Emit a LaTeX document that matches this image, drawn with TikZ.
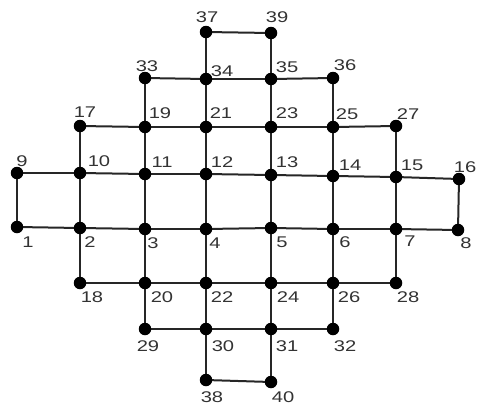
\documentclass[tikz,border=0pt]{standalone}
\usepackage{fontspec}
\newfontfamily\labfont{Liberation Sans}
\tikzset{
  vtx/.style={circle,fill=black,inner sep=0pt,minimum size=12.5pt},
  lab/.style={font=\labfont\fontsize{15.5}{15.5}\selectfont,text=black!80,inner sep=0pt,xscale=1.3,transform shape},
  edge/.style={line width=2pt,draw=black!85}
}
\begin{document}
\begin{tikzpicture}[x=1pt,y=-1pt]
\useasboundingbox (0,0) rectangle (479,408);
\foreach \n/\x/\y in {1/17/227,2/80/228,3/145/229,4/206/229,5/271/228,6/333/229,7/396/229,8/458/230,
  9/17/173,10/80/173,11/145/174,12/206/174,13/271/175,14/333/176,15/396/177,16/459/179,
  17/80/126,18/80/283,19/145/127,20/145/283,21/206/127,22/206/283,23/271/127,24/271/283,
  25/333/127,26/333/283,27/396/126,28/396/283,29/145/329,30/206/329,31/271/329,32/333/329,
  33/145/78,34/206/79,35/271/79,36/333/78,37/206/32,38/206/380,39/271/33,40/271/382}
  \coordinate (c\n) at (\x,\y);
\foreach \a/\b in {37/39,37/34,39/35,33/34,34/35,35/36,33/19,34/21,35/23,36/25,
  17/19,19/21,21/23,23/25,25/27,17/10,19/11,21/12,23/13,25/14,27/15,
  9/10,10/11,11/12,12/13,13/14,14/15,15/16,9/1,10/2,11/3,12/4,13/5,14/6,15/7,16/8,
  1/2,2/3,3/4,4/5,5/6,6/7,7/8,2/18,3/20,4/22,5/24,6/26,7/28,
  18/20,20/22,22/24,24/26,26/28,20/29,22/30,24/31,26/32,
  29/30,30/31,31/32,30/38,31/40,38/40}
  \draw[edge] (c\a) -- (c\b);
\foreach \n in {1,...,40}
  \node[vtx] (v\n) at (c\n) {};
\foreach \n/\x/\y in {1/28/242,2/90/242,3/153/243,4/215/243,5/282/242,6/345/242,7/410/241,8/466/243,
  9/22/161,10/99/161,11/162/162,12/222/162,13/287/162,14/350/165,15/412/165,16/465/167,
  17/85/112,18/92/297,19/160/113,20/162/297,21/221/113,22/222/297,23/287/113,24/288/297,
  25/347/114,26/349/297,27/408/114,28/408/297,29/148/346,30/223/346,31/287/346,32/345/346,
  33/147/66,34/222/71,35/287/67,36/345/65,37/207/17,38/212/397,39/277/17,40/283/397}
  \node[lab] (l\n) at (\x,\y) {\n};
\end{tikzpicture}
\end{document}
